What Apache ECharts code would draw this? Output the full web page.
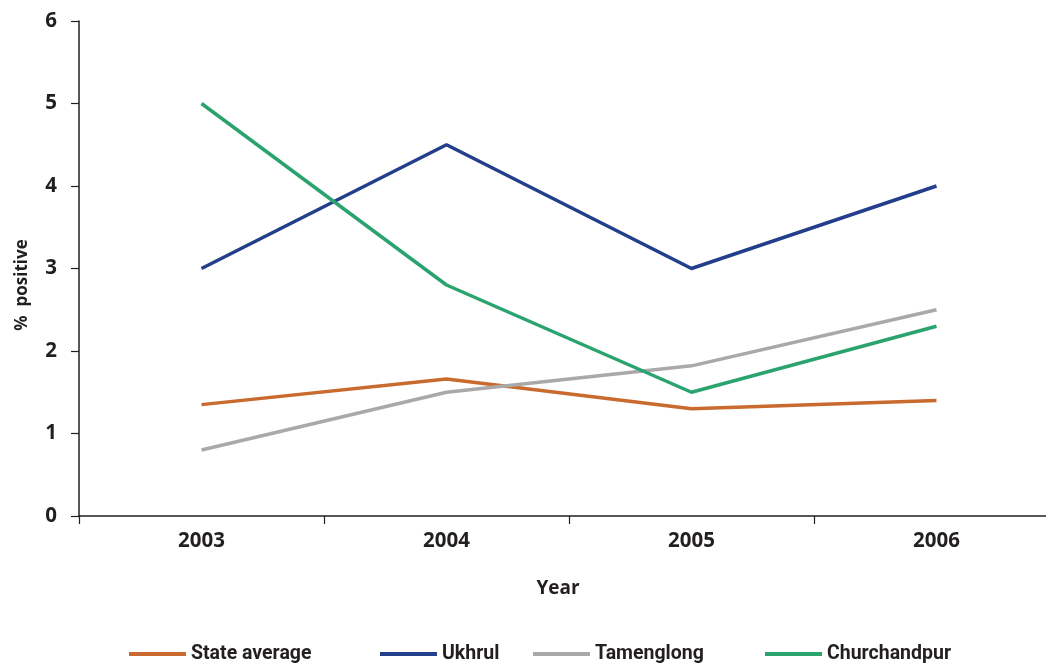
<!DOCTYPE html>
<html>
<head>
<meta charset="utf-8">
<script src="https://cdn.jsdelivr.net/npm/echarts@6/dist/echarts.min.js"></script>
<style>
html,body{margin:0;padding:0;background:#fff;}
#chart{width:1046px;height:668px;}
</style>
</head>
<body>
<div id="chart"></div>
<script>
var years = ['2003', '2004', '2005', '2006'];
var stateAverage = [1.35, 1.66, 1.30, 1.40];
var ukhrul = [3.0, 4.5, 3.0, 4.0];
var tamenglong = [0.80, 1.50, 1.82, 2.50];
var churchandpur = [5.0, 2.8, 1.5, 2.3];
var seriesNames = ['State average', 'Ukhrul', 'Tamenglong', 'Churchandpur'];
var colors = ['#c96a2f', '#233f8b', '#a9a9a9', '#2ba36f'];
var yTicks = {min: 0, max: 6, interval: 1};

var axisFont = "'Open Sans', 'Noto Sans', sans-serif";
var legendFont = "Roboto, 'Noto Sans', sans-serif";
var textColor = '#231f20';

var chart = echarts.init(document.getElementById('chart'));
var values = [stateAverage, ukhrul, tamenglong, churchandpur];
var legendLeft = [129, 380, 533, 765];

var option = {
  animation: false,
  backgroundColor: '#fff',
  color: colors,
  grid: {left: 79, top: 21, width: 980, height: 495, containLabel: false, outerBoundsMode: 'none'},
  legend: seriesNames.map(function (n, i) {
    return {
      data: [n],
      left: legendLeft[i],
      top: 644,
      padding: 0,
      icon: 'rect',
      itemWidth: 57,
      itemHeight: 4,
      textStyle: {fontFamily: legendFont, fontWeight: 'bold', fontSize: 19.5, color: textColor}
    };
  }),
  xAxis: {
    type: 'category',
    data: years,
    boundaryGap: true,
    name: 'Year',
    nameLocation: 'middle',
    nameGap: 63,
    nameTextStyle: {fontFamily: axisFont, fontWeight: 'bold', fontSize: 19, color: textColor, padding: [0, 22, 0, 0]},
    axisLine: {lineStyle: {color: textColor, width: 1.5}},
    axisTick: {show: true, length: 8, lineStyle: {color: textColor, width: 1.2}},
    axisLabel: {fontFamily: axisFont, fontWeight: 'bold', fontSize: 20.5, color: textColor, margin: 15},
    splitLine: {show: false}
  },
  yAxis: {
    type: 'value',
    min: yTicks.min,
    max: yTicks.max,
    interval: yTicks.interval,
    name: '%  positive',
    nameLocation: 'middle',
    nameGap: 48,
    nameTextStyle: {fontFamily: axisFont, fontWeight: 'bold', fontSize: 17, color: textColor, padding: [0, 33, 0, 0]},
    axisLine: {show: true, lineStyle: {color: textColor, width: 1.5}},
    axisTick: {show: true, length: 8, lineStyle: {color: textColor, width: 1.2}},
    axisLabel: {fontFamily: axisFont, fontWeight: 'bold', fontSize: 20.5, color: textColor, margin: 22},
    splitLine: {show: false}
  },
  series: seriesNames.map(function (n, i) {
    return {
      name: n,
      type: 'line',
      data: values[i],
      symbol: 'none',
      lineStyle: {width: 3.5, color: colors[i]},
      itemStyle: {color: colors[i]}
    };
  })
};
chart.setOption(option);
</script>
</body>
</html>
